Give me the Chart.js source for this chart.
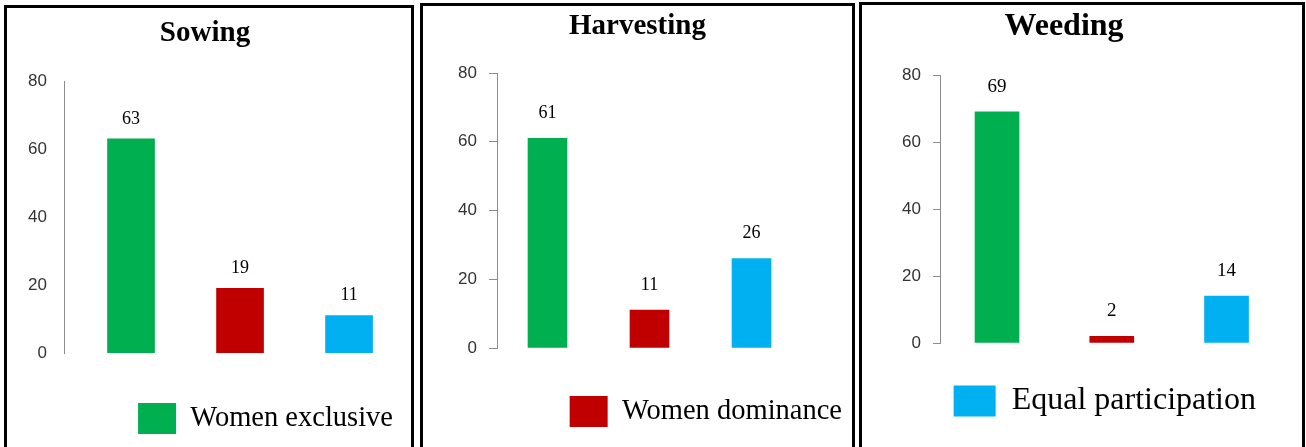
<!DOCTYPE html>
<html>
<head>
<meta charset="utf-8">
<title>Women participation in farm activities</title>
<script src="https://cdn.jsdelivr.net/npm/chart.js@4.4.1/dist/chart.umd.min.js"></script>
<style>
  body { margin: 0; background: #fff; overflow: hidden; width: 1306px; height: 447px; position: relative; }
  .panel { position: absolute; border: 3px solid #000; box-sizing: border-box; height: 470px; background: #fff; }
  .panel canvas { position: absolute; left: 0; top: 0; }
</style>
</head>
<body>
<div class="panel" style="left:4px;top:5px;width:410px"><canvas id="sowingChart" width="404" height="439"></canvas></div>
<div class="panel" style="left:420px;top:3px;width:435px"><canvas id="harvestingChart" width="429" height="441"></canvas></div>
<div class="panel" style="left:859px;top:2px;width:446px"><canvas id="weedingChart" width="440" height="442"></canvas></div>
<script>
const categories = ["Women exclusive", "Women dominance", "Equal participation"];
const barColors = ["#00B050", "#C00000", "#00B0F0"];
const sowing = [63, 19, 11];
const harvesting = [61, 11, 26];
const weeding = [69, 2, 14];
const yTicks = [0, 20, 40, 60, 80];
const positions = [0, 1, 2];

const axisGray = "#8c8c8c";

// value above each bar
const valueLabels = {
    id: "valueLabels",
    afterDatasetsDraw(chart, args, opts) {
        const ctx = chart.ctx;
        const meta = chart.getDatasetMeta(0);
        const data = chart.data.datasets[0].data;
        ctx.save();
        ctx.font = opts.size + "px 'Liberation Serif'";
        ctx.fillStyle = "#000";
        ctx.textAlign = "center";
        ctx.textBaseline = "middle";
        meta.data.forEach((bar, i) => {
            ctx.fillText(data[i].y, bar.x, bar.y - opts.offset);
        });
        ctx.restore();
    }
};

function makeChart(id, title, values, p) {
    return new Chart(document.getElementById(id), {
        type: "bar",
        data: {
            datasets: [{
                data: positions.map((x, i) => ({ x: x, y: values[i] })),
                backgroundColor: barColors,
                borderWidth: 0,
                barThickness: p.bar
            }]
        },
        plugins: [valueLabels],
        options: {
            responsive: false,
            animation: false,
            layout: { padding: { top: 0, left: 0, right: p.padRight, bottom: p.padBottom } },
            scales: {
                x: {
                    type: "linear",
                    offset: false,
                    bounds: "data",
                    min: p.xMin,
                    max: p.xMax,
                    ticks: { display: false },
                    grid: { display: false, offset: false },
                    border: { display: false },
                    afterFit: (s) => { s.height = p.xh; }
                },
                y: {
                    min: 0,
                    max: 80,
                    afterBuildTicks: (s) => { s.ticks = yTicks.map((v) => ({ value: v })); },
                    afterFit: (s) => { s.width = p.yw; },
                    border: { color: axisGray, width: 1 },
                    grid: {
                        display: p.tick > 0,
                        drawOnChartArea: false,
                        drawTicks: p.tick > 0,
                        tickLength: p.tick,
                        color: axisGray
                    },
                    ticks: {
                        padding: p.tickPad,
                        color: "#333",
                        font: { family: "Liberation Sans", size: 17 }
                    }
                }
            },
            plugins: {
                title: {
                    display: true,
                    text: title,
                    color: "#000",
                    font: { family: "Liberation Serif", weight: "bold", size: p.titleSize, lineHeight: 1.2 },
                    padding: { top: p.titleTop, bottom: p.titleBottom }
                },
                legend: {
                    position: "bottom",
                    align: "end",
                    labels: {
                        boxWidth: p.box,
                        boxHeight: 31,
                        padding: 10,
                        color: "#000",
                        font: { family: "Liberation Serif", size: p.legendSize },
                        generateLabels: () => [{
                            text: categories[p.legend],
                            fillStyle: barColors[p.legend],
                            strokeStyle: barColors[p.legend],
                            lineWidth: 0,
                            hidden: false,
                            datasetIndex: 0
                        }]
                    }
                },
                tooltip: { enabled: false },
                valueLabels: { size: p.labelSize, offset: p.labelOffset }
            }
        }
    });
}

makeChart("sowingChart", "Sowing", sowing, {
    yw: 57, tick: 0, tickPad: 17, xMin: -0.615, xMax: 2.495, bar: 47,
    padRight: 8, padBottom: 3, xh: 40, titleSize: 29, titleTop: 8.5, titleBottom: 29.7,
    legend: 0, box: 38, legendSize: 28.5, labelSize: 18, labelOffset: 20
});

makeChart("harvestingChart", "Harvesting", harvesting, {
    yw: 74, tick: 8, tickPad: 12, xMin: -0.495, xMax: 2.985, bar: 39,
    padRight: 0, padBottom: 10, xh: 38, titleSize: 29, titleTop: 3, titleBottom: 29.2,
    legend: 1, box: 38, legendSize: 28.5, labelSize: 18, labelOffset: 25
});

makeChart("weedingChart", "Weeding", weeding, {
    yw: 78, tick: 7, tickPad: 12, xMin: -0.497, xMax: 2.344, bar: 44,
    padRight: 36, padBottom: 20, xh: 32, titleSize: 32, titleTop: 2.8, titleBottom: 28.8,
    legend: 2, box: 42, legendSize: 32, labelSize: 19, labelOffset: 25
});
</script>
</body>
</html>
